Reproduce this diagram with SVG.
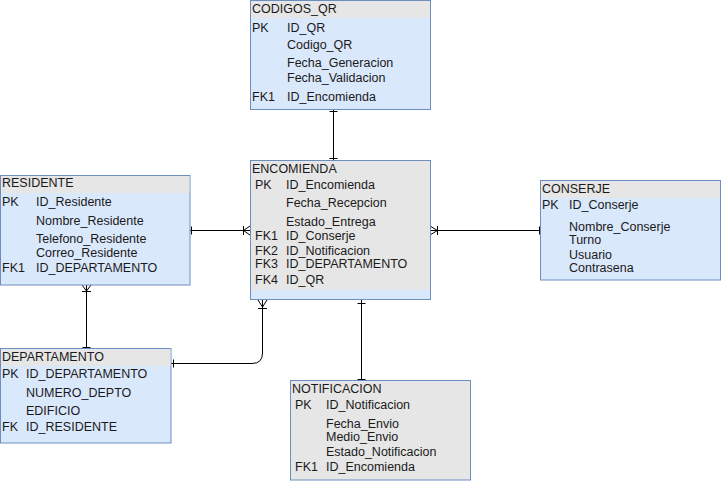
<svg xmlns="http://www.w3.org/2000/svg" width="721" height="481" viewBox="0 0 721 481">
<style>
.box{fill:#dae8fc;stroke:#6c8ebf;stroke-width:1}
.hdr{fill:#e6e6e6;stroke:none}
.gray{fill:#e6e6e6;stroke:#6c8ebf;stroke-width:1}
text{font-family:"Liberation Sans",Arial,sans-serif;font-size:12.5px;fill:#1a1a1a}
.ln{fill:none;stroke:#000;stroke-width:1}
</style>
<rect width="721" height="481" fill="#ffffff"/>
<g id="connectors">
  <!-- CODIGOS_QR - ENCOMIENDA -->
  <path class="ln" d="M333.5,110 L333.5,160"/>
  <path class="ln" d="M329.5,111.5 L337.5,111.5 M329.5,158.5 L337.5,158.5"/>
  <!-- RESIDENTE - ENCOMIENDA -->
  <path class="ln" d="M190,230.5 L250,230.5"/>
  <path class="ln" d="M191.5,226.5 L191.5,234.5"/>
  <path class="ln" d="M243.5,226 L243.5,235 M250,226 L243.5,230.5 L250,235"/>
  <!-- ENCOMIENDA - CONSERJE -->
  <path class="ln" d="M430,230.5 L540,230.5"/>
  <path class="ln" d="M430,226 L437.5,230.5 L430,235 M437.5,226 L437.5,235"/>
  <path class="ln" d="M539.5,226.5 L539.5,234.5"/>
  <!-- RESIDENTE - DEPARTAMENTO -->
  <path class="ln" d="M86.5,285 L86.5,348"/>
  <path class="ln" d="M82,285 L86.5,291 L91,285 M82,291.5 L91,291.5"/>
  <path class="ln" d="M82.5,347.5 L90.5,347.5"/>
  <!-- ENCOMIENDA - DEPARTAMENTO -->
  <path class="ln" d="M262.5,300 L262.5,353 Q262.5,363.5 252,363.5 L171,363.5"/>
  <path class="ln" d="M258,300 L262.5,307 L267,300 M258,308.5 L267,308.5"/>
  <path class="ln" d="M173.5,359.5 L173.5,367.5"/>
  <!-- ENCOMIENDA - NOTIFICACION -->
  <path class="ln" d="M361.5,300 L361.5,380"/>
  <path class="ln" d="M357.5,303.5 L365.5,303.5 M357.5,379.5 L365.5,379.5"/>
</g>
<g id="codigos_qr">
  <rect class="box" x="250.5" y="0.5" width="180" height="109"/>
  <rect class="hdr" x="251" y="1" width="179" height="17"/>
  <text x="252" y="13">CODIGOS_QR</text>
  <text x="252" y="32">PK</text><text x="287" y="32">ID_QR</text>
  <text x="287" y="49">Codigo_QR</text>
  <text x="287" y="67">Fecha_Generacion</text>
  <text x="287" y="82">Fecha_Validacion</text>
  <text x="252" y="101">FK1</text><text x="287" y="101">ID_Encomienda</text>
</g>
<g id="encomienda">
  <rect class="box" x="250.5" y="160.5" width="180" height="139"/>
  <rect class="hdr" x="251" y="161" width="179" height="129"/>
  <text x="252" y="173">ENCOMIENDA</text>
  <text x="255" y="189">PK</text><text x="286" y="189">ID_Encomienda</text>
  <text x="286" y="207">Fecha_Recepcion</text>
  <text x="286" y="226">Estado_Entrega</text>
  <text x="255" y="240">FK1</text><text x="286" y="240">ID_Conserje</text>
  <text x="255" y="255">FK2</text><text x="286" y="255">ID_Notificacion</text>
  <text x="255" y="268">FK3</text><text x="286" y="268">ID_DEPARTAMENTO</text>
  <text x="255" y="284">FK4</text><text x="286" y="284">ID_QR</text>
</g>
<g id="residente">
  <rect class="box" x="0.5" y="175.5" width="189.5" height="109.5"/>
  <rect class="hdr" x="1" y="176" width="188.5" height="17"/>
  <text x="2" y="187">RESIDENTE</text>
  <text x="2" y="206">PK</text><text x="36" y="206">ID_Residente</text>
  <text x="36" y="225">Nombre_Residente</text>
  <text x="36" y="243">Telefono_Residente</text>
  <text x="36" y="257">Correo_Residente</text>
  <text x="2" y="272">FK1</text><text x="36" y="272">ID_DEPARTAMENTO</text>
</g>
<g id="departamento">
  <rect class="box" x="0.5" y="348.5" width="170.5" height="94.5"/>
  <rect class="hdr" x="1" y="349" width="169.5" height="17"/>
  <text x="2" y="361">DEPARTAMENTO</text>
  <text x="2" y="378">PK</text><text x="26" y="378">ID_DEPARTAMENTO</text>
  <text x="26" y="397">NUMERO_DEPTO</text>
  <text x="26" y="415">EDIFICIO</text>
  <text x="2" y="431">FK</text><text x="26" y="431">ID_RESIDENTE</text>
</g>
<g id="notificacion">
  <rect class="gray" x="290.5" y="380.5" width="180" height="99.5"/>
  <text x="292" y="393">NOTIFICACION</text>
  <text x="295" y="409">PK</text><text x="326" y="409">ID_Notificacion</text>
  <text x="326" y="428">Fecha_Envio</text>
  <text x="326" y="441">Medio_Envio</text>
  <text x="326" y="456">Estado_Notificacion</text>
  <text x="295" y="471">FK1</text><text x="326" y="471">ID_Encomienda</text>
</g>
<g id="conserje">
  <rect class="box" x="540.5" y="180.5" width="180" height="99.5"/>
  <rect class="hdr" x="541" y="181" width="179" height="17"/>
  <text x="542" y="193">CONSERJE</text>
  <text x="542" y="209">PK</text><text x="569" y="209">ID_Conserje</text>
  <text x="569" y="231">Nombre_Conserje</text>
  <text x="569" y="244">Turno</text>
  <text x="569" y="259">Usuario</text>
  <text x="569" y="272">Contrasena</text>
</g>
</svg>
